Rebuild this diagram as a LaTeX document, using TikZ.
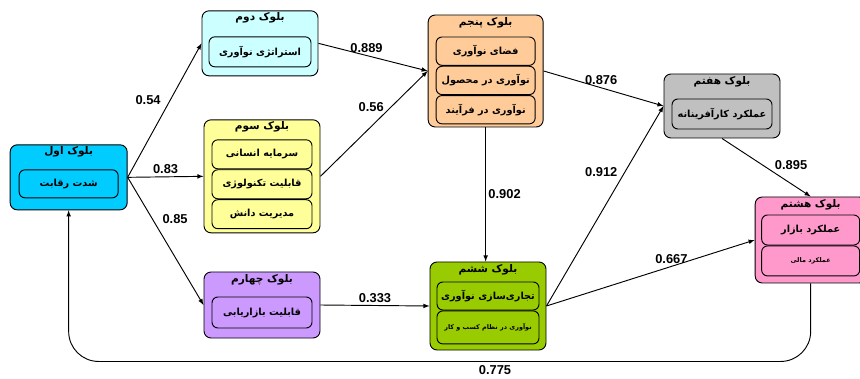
\documentclass[tikz,border=0pt]{standalone}
\usepackage{fontspec}
\setmainfont{Liberation Sans}
\newfontfamily\fa[Script=Arabic]{DejaVu Sans}
\TeXXeTstate=1
\usetikzlibrary{shapes,arrows,positioning,fit}
\definecolor{blkone}{HTML}{00CCFF}
\definecolor{blktwo}{HTML}{CCFFFF}
\definecolor{blkthree}{HTML}{FFFF99}
\definecolor{blkfour}{HTML}{CC99FF}
\definecolor{blkfive}{HTML}{FFCC99}
\definecolor{blksix}{HTML}{99CC00}
\definecolor{blkseven}{HTML}{C0C0C0}
\definecolor{blkeight}{HTML}{FF99CC}

\begin{document}
\begin{tikzpicture}[
    block/.style={rectangle, draw, thick, rounded corners=6pt, minimum width=3.48cm, minimum height=1.95cm},
    item/.style={rectangle, draw, thick, rounded corners=5pt, minimum width=3cm, minimum height=0.87cm, inner sep=1pt, font=\fa\bfseries\fontsize{8.3}{9}\selectfont},
    title/.style={anchor=north, inner sep=1pt, font=\fa\bfseries\fontsize{9}{10}\selectfont},
    arrow/.style={->, >=latex, thick},
    weight/.style={font=\bfseries\fontsize{11}{12}\selectfont, inner sep=2pt}
]
\useasboundingbox (0,0) rectangle (25.8,11.34);

% Block 1 (left) label=title inside the block
\node[block, fill=blkone, minimum width=3.51cm] (comp) at (2.06,6.02) {};
\node[title] (comp-t) at ([yshift=-1pt]comp.north) {\beginR بلوک اول\endR};
\node[item, below=0.75cm of comp.north, minimum width=2.97cm, minimum height=0.84cm] (comp1) {\beginR شدت رقابت\endR};

\node[block, fill=blktwo] (strat) at (7.8,10.04) {};
\node[title] (strat-t) at ([yshift=-1pt]strat.north) {\beginR بلوک دوم\endR};
\node[item, below=0.78cm of strat.north, minimum width=3.06cm, minimum height=0.9cm] (strat1) {\beginR استراتژی نوآوری\endR};

\node[block, fill=blkthree, minimum height=3.39cm] (res) at (7.86,6.05) {};
\node[title] (res-t) at ([yshift=-1pt]res.north) {\beginR بلوک سوم\endR};
\node[item, below=0.6cm of res.north] (res1) {\beginR سرمایه انسانی\endR};
\node[item, below=0pt of res1] (res2) {\beginR قابلیت تکنولوژی\endR};
\node[item, below=0pt of res2] (res3) {\beginR مدیریت دانش\endR};

\node[block, fill=blkfour, minimum height=1.98cm] (mkt) at (7.86,2.19) {};
\node[title] (mkt-t) at ([yshift=-1pt]mkt.north) {\beginR بلوک چهارم\endR};
\node[item, below=0.75cm of mkt.north, minimum height=0.93cm] (mkt1) {\beginR قابلیت بازاریابی\endR};

\node[block, fill=blkfive, minimum width=3.45cm, minimum height=3.36cm] (innov) at (14.57,9.21) {};
\node[title] (innov-t) at ([yshift=-1pt]innov.north) {\beginR بلوک پنجم\endR};
\node[item, below=0.66cm of innov.north, minimum width=2.97cm, minimum height=0.85cm] (innov1) {\beginR فضای نوآوری\endR};
\node[item, below=0pt of innov1, minimum width=2.97cm, minimum height=0.85cm] (innov2) {\beginR نوآوری در محصول\endR};
\node[item, below=0pt of innov2, minimum width=2.97cm, minimum height=0.85cm] (innov3) {\beginR نوآوری در فرآیند\endR};

\node[block, fill=blksix, minimum height=2.64cm] (comm) at (14.64,2.16) {};
\node[title] (comm-t) at ([yshift=-1pt]comm.north) {\beginR بلوک ششم\endR};
\node[item, below=0.6cm of comm.north, minimum width=3.06cm, minimum height=0.84cm] (comm1) {\beginR تجاری‌سازی نوآوری\endR};
\node[item, below=0pt of comm1, minimum width=3.06cm, minimum height=0.99cm, font=\fa\bfseries\fontsize{5.5}{6}\selectfont] (comm2) {\beginR نوآوری در نظام کسب و کار\endR};

\node[block, fill=blkseven, minimum height=1.92cm] (entr) at (21.66,8.16) {};
\node[title] (entr-t) at ([yshift=-1pt]entr.north) {\beginR بلوک هفتم\endR};
\node[item, below=0.75cm of entr.north, minimum height=0.9cm] (entr1) {\beginR عملکرد کارآفرینانه\endR};

\node[block, fill=blkeight, minimum width=3.33cm, minimum height=2.58cm] (perf) at (24.32,4.14) {};
\node[title] (perf-t) at ([yshift=-1pt]perf.north) {\beginR بلوک هشتم\endR};
\node[item, below=0.54cm of perf.north, minimum width=2.94cm, minimum height=0.9cm] (perf1) {\beginR عملکرد بازار\endR};
\node[item, below=0pt of perf1, minimum width=2.94cm, minimum height=0.9cm, font=\fa\bfseries\fontsize{5.5}{6}\selectfont] (perf2) {\beginR عملکرد مالی\endR};

\draw[arrow] (comp.east) -- (strat.west) node[weight, pos=0.58, left=6pt] {0.54};
\draw[arrow] (comp.east) -- (res.west) node[weight, midway, above] {0.83};
\draw[arrow] (comp.east) -- (mkt.west) node[weight, pos=0.33, right=6pt] {0.85};
\draw[arrow] (strat.east) -- (innov.west) node[weight, pos=0.44, above] {0.889};
\draw[arrow] (res.east) -- (innov.west) node[weight, pos=0.66, left=4pt] {0.56};
\draw[arrow] (mkt.east) -- (comm.west) node[weight, midway, above] {0.333};
\draw[arrow] (innov.south) -- (innov.south |- comm.north) node[weight, midway, right] {0.902};
\draw[arrow] (innov.east) -- (entr.west) node[weight, pos=0.48, above] {0.876};
\draw[arrow] (comm.east) -- (entr.west) node[weight, pos=0.67, left=4pt] {0.912};
\draw[arrow] (entr.south) -- (perf.north) node[weight, pos=0.46, right=8pt] {0.895};
\draw[arrow] (comm.east) -- (perf.west) node[weight, pos=0.6, above] {0.667};
\draw[arrow, rounded corners=0.9cm] (perf.south) -- ++(0,-2.34) coordinate (loop) -| (comp.south);
\node[weight] (fb) at (14.85,0.23) {0.775};

\end{tikzpicture}
\end{document}
